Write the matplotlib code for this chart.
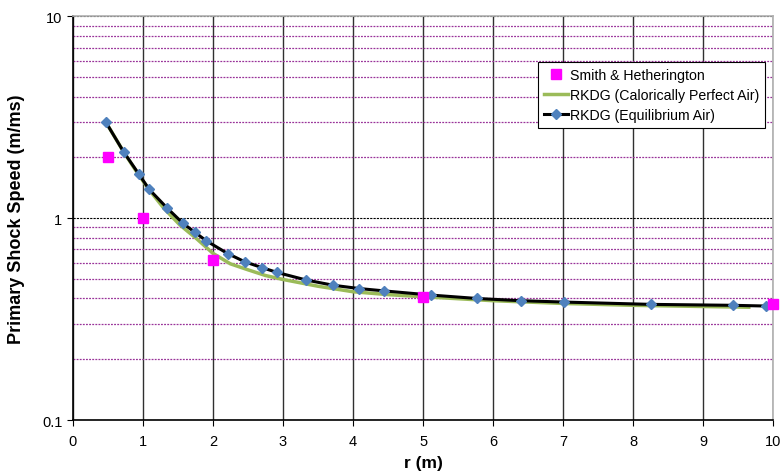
import numpy as np
import matplotlib.pyplot as plt
from matplotlib.ticker import LogLocator, NullFormatter, FixedLocator

plt.rcParams['font.family'] = ['Liberation Sans', 'DejaVu Sans']

# 实验数据 (Smith & Hetherington)
r_exp = [0.5, 1.0, 2.0, 5.0, 10.0]
v_exp = [2.0, 1.0, 0.62, 0.405, 0.377]

# RKDG 量热完全气体
r_cpa = [0.47, 0.73, 0.94, 1.1, 1.3, 1.53, 1.77, 2.0, 2.25, 2.5, 2.75, 3.0,
         3.5, 4.0, 4.5, 5.0, 6.0, 7.0, 8.0, 9.0, 9.65]
v_cpa = [3.0, 2.12, 1.64, 1.37, 1.12, 0.925, 0.79, 0.67, 0.594, 0.555, 0.52, 0.497,
         0.46, 0.432, 0.418, 0.408, 0.39, 0.378, 0.370, 0.365, 0.362]

# RKDG 平衡空气
r_eq = [0.47, 0.73, 0.94, 1.09, 1.35, 1.57, 1.745, 1.907, 2.21, 2.46, 2.70, 2.92,
        3.33, 3.72, 4.09, 4.45, 5.11, 5.77, 6.40, 7.01, 8.25, 9.42, 9.89]
v_eq = [3.0, 2.12, 1.66, 1.39, 1.12, 0.945, 0.85, 0.772, 0.668, 0.607, 0.569, 0.538,
        0.494, 0.465, 0.448, 0.436, 0.416, 0.40, 0.39, 0.384, 0.374, 0.370, 0.367]

fig = plt.figure(figsize=(7.83, 4.77), dpi=100)
ax = fig.add_axes([0.0929, 0.1174, 0.8947, 0.8463])

ax.plot(r_cpa, v_cpa, color='#9BBB59', linewidth=2.5, zorder=3,
        label='RKDG (Calorically Perfect Air)')
ax.plot(r_eq, v_eq, color='black', linewidth=2.2, marker='D', markersize=5,
        markerfacecolor='#4F81BD', markeredgecolor='#4F81BD', zorder=4,
        label='RKDG (Equilibrium Air)')
ax.plot(r_exp, v_exp, linestyle='none', marker='s', markersize=7,
        color='#FF00FF', zorder=5, clip_on=False, label='Smith & Hetherington')

ax.set_yscale('log')
ax.set_xlim(0, 10)
ax.set_ylim(0.1, 10)
ax.xaxis.set_major_locator(FixedLocator(range(0, 11)))
ax.yaxis.set_major_locator(FixedLocator([0.1, 1, 10]))
ax.set_yticklabels(['0.1', '1', '10'])
ax.yaxis.set_minor_locator(LogLocator(base=10, subs=np.arange(2, 10)))
ax.yaxis.set_minor_formatter(NullFormatter())

# 网格
ax.grid(True, which='major', axis='x', color='#303030', linewidth=1.0)
ax.grid(True, which='major', axis='y', color='black', linewidth=0.8, linestyle=(0, (2, 1)))
ax.grid(True, which='minor', axis='y', color='#993399', linewidth=0.9, linestyle=(0, (1.5, 1)))
ax.set_axisbelow(True)

ax.tick_params(axis='both', which='major', labelsize=10.5, direction='out', length=4,
               color='black')
ax.tick_params(axis='y', which='minor', length=0)
ax.tick_params(axis='x', pad=6)

for s in ['top', 'right']:
    ax.spines[s].set_color('#b0b0b0')
    ax.spines[s].set_linewidth(1.2)
for s in ['left', 'bottom']:
    ax.spines[s].set_color('black')
    ax.spines[s].set_linewidth(1.2)

ax.set_xlabel('r (m)', fontsize=12.5, fontweight='bold', labelpad=5)
ax.set_ylabel('Primary Shock Speed (m/ms)', fontsize=13, fontweight='bold', labelpad=12)

# 图例顺序：实验点在前
handles, labels = ax.get_legend_handles_labels()
order = [2, 0, 1]
leg = ax.legend([handles[i] for i in order], [labels[i] for i in order],
                loc='upper right', bbox_to_anchor=(0.988, 0.887), borderaxespad=0,
                fontsize=10.2, fancybox=False, framealpha=1, edgecolor='black',
                handlelength=1.7, handletextpad=0.15, borderpad=0.4, labelspacing=0.45)
leg.get_frame().set_linewidth(0.8)

plt.savefig('out.png', dpi=100)
plt.close()
